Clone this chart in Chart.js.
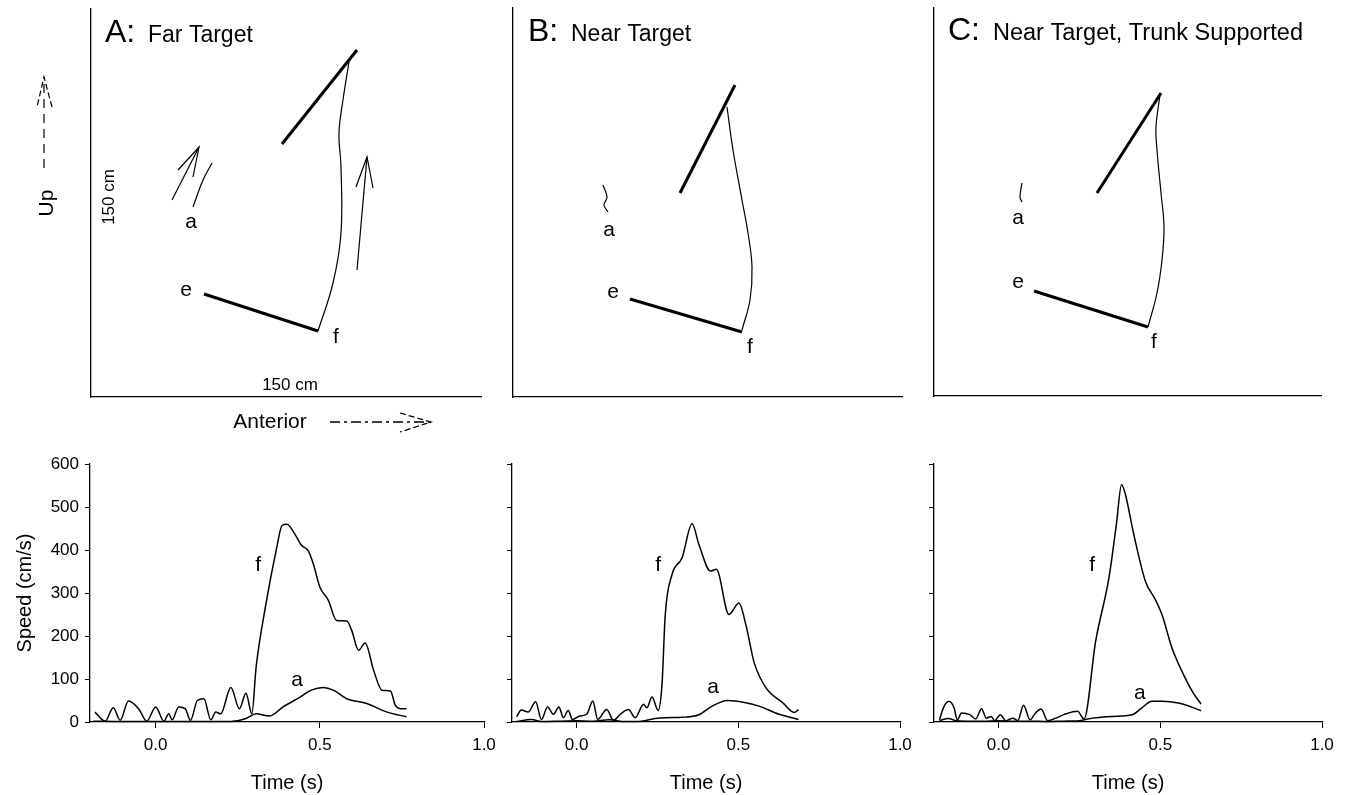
<!DOCTYPE html>
<html><head><meta charset="utf-8">
<script src="https://cdn.jsdelivr.net/npm/chart.js@4/dist/chart.umd.min.js"></script>
<style>
html,body{margin:0;padding:0;background:#fff;}
#wrap{position:relative;width:1347px;height:795px;overflow:hidden;background:#fff;}
canvas{position:absolute;}
</style></head><body><div id="wrap">
<canvas id="topA" width="500" height="440" style="left:0px;top:0px"></canvas>
<canvas id="topB" width="420" height="440" style="left:500px;top:0px"></canvas>
<canvas id="topC" width="427" height="440" style="left:920px;top:0px"></canvas>
<canvas id="botA" width="520" height="355" style="left:0px;top:440px"></canvas>
<canvas id="botB" width="520" height="355" style="left:420px;top:440px"></canvas>
<canvas id="botC" width="507" height="355" style="left:840px;top:440px"></canvas>
</div>
<script>
// ===== Top panels: stick-figure data (units relative to axes origin) =====
const A_upperArmX = [191, 266], A_upperArmY = [253, 347];
const A_forearmX = [113, 227], A_forearmY = [103, 66];
const A_fPathX = [227, 242, 250, 250, 248, 252, 258], A_fPathY = [66, 114, 164, 230, 264, 297, 335];
const A_aPathX = [102, 112, 121], A_aPathY = [190, 217, 234];
const A_fArrowX = [266, 276], A_fArrowY = [127, 240];
const A_fHeadX = [265, 276, 282], A_fHeadY = [210, 240, 209];
const A_aArrowX = [81, 108], A_aArrowY = [197, 250];
const A_aHeadX = [87, 108, 102], A_aHeadY = [227, 250, 220];
const A_upArrowX = [-47, -47], A_upArrowY = [229, 320];
const A_upHeadX = [-39, -47, -54], A_upHeadY = [290, 320, 290];
const A_antArrowX = [239, 340], A_antArrowY = [-25, -25];
const A_antHeadX = [309, 340, 309], A_antHeadY = [-16, -25, -35];

const B_upperArmX = [167, 222], B_upperArmY = [204, 312];
const B_forearmX = [117, 229], B_forearmY = [98, 65];
const B_fPathX = [229, 237, 239, 235, 229, 220, 214], B_fPathY = [67, 97, 130, 164, 197, 247, 290];
const B_aPathX = [90, 94, 91, 95], B_aPathY = [212, 200, 192, 185];

const C_upperArmX = [163, 227], C_upperArmY = [203, 303];
const C_forearmX = [100, 214], C_forearmY = [105, 69];
const C_fPathX = [214, 223, 228, 230, 227, 223, 222, 226], C_fPathY = [69, 103, 136, 169, 203, 246, 269, 301];
const C_aPathX = [88, 86, 88], C_aPathY = [213, 199, 194];

// ===== Bottom panels: speed (cm/s) vs time (s) =====
const A_fTime = [-0.185,-0.154,-0.129,-0.108,-0.083,-0.052,-0.027,0.0,0.025,0.04,0.05,0.07,0.09,0.106,0.127,0.147,0.168,0.183,0.198,0.229,0.255,0.275,0.293,0.306,0.336,0.367,0.385,0.4,0.423,0.444,0.464,0.48,0.5,0.526,0.551,0.582,0.597,0.618,0.638,0.664,0.689,0.715,0.73,0.745,0.764];
const A_fSpeed = [23,2,33,4,49,31,2,35,2,19,5,35,31,4,50,54,5,23,19,80,31,67,19,128,275,399,457,460,438,411,399,368,314,283,236,235,213,167,184,120,74,72,39,31,31];
const A_aTime = [-0.19,-0.1,0,0.1,0.2,0.25,0.275,0.306,0.347,0.388,0.44,0.474,0.51,0.541,0.582,0.643,0.705,0.764];
const A_aSpeed = [2,1,1,1,1,3,8,19,14,35,58,74,80,74,54,43,23,12];

const B_fTime = [-0.186,-0.171,-0.15,-0.127,-0.109,-0.09,-0.072,-0.055,-0.041,-0.026,-0.013,0.01,0.031,0.05,0.065,0.093,0.114,0.135,0.16,0.181,0.207,0.217,0.233,0.252,0.264,0.274,0.295,0.326,0.357,0.378,0.414,0.432,0.471,0.502,0.523,0.549,0.585,0.637,0.673,0.686];
const B_fSpeed = [12,28,23,47,6,35,18,35,10,27,6,14,18,49,6,29,4,18,29,10,41,33,58,27,88,250,343,382,461,413,351,355,250,277,227,138,80,45,22,29];
const B_aTime = [-0.186,-0.14,-0.109,-0.05,0.0,0.05,0.1,0.15,0.2,0.243,0.274,0.326,0.378,0.419,0.466,0.523,0.564,0.626,0.686];
const B_aSpeed = [1,6,1,2,3,2,5,1,2,8,10,11,17,37,50,45,37,18,6];

const C_fTime = [-0.183,-0.171,-0.154,-0.138,-0.128,-0.115,-0.089,-0.071,-0.053,-0.038,-0.023,-0.012,0.005,0.022,0.044,0.059,0.077,0.097,0.114,0.131,0.152,0.177,0.208,0.244,0.264,0.3,0.341,0.364,0.38,0.392,0.418,0.454,0.485,0.505,0.536,0.577,0.602,0.626];
const C_fSpeed = [5,33,48,33,5,21,17,7,31,9,13,3,17,3,9,3,39,5,21,30,3,9,19,25,7,188,335,459,552,529,436,327,284,250,172,102,67,42];
const C_aTime = [-0.183,-0.156,-0.13,-0.1,-0.05,0.0,0.05,0.1,0.15,0.2,0.249,0.29,0.351,0.413,0.443,0.474,0.505,0.556,0.592,0.626];
const C_aSpeed = [3,8,3,2,2,3,2,2,1,2,3,9,13,17,33,48,48,44,36,26];

// Tick labels
const timeTicks = [0.0, 0.5, 1.0];
const speedTicks = [0, 100, 200, 300, 400, 500, 600];

// Text labels (positions in data units of each panel)
const topTextA = [
  {text:'A:', x:14, y:355, size:32, align:'left', baseline:'alphabetic'},
  {text:'Far Target', x:57, y:355, size:23, align:'left', baseline:'alphabetic'},
  {text:'a', x:100, y:175, size:21},
  {text:'e', x:95, y:107, size:21},
  {text:'f', x:245, y:60, size:21},
  {text:'150 cm', x:18, y:200, size:17, rot:-Math.PI/2},
  {text:'150 cm', x:199, y:12, size:17},
  {text:'Up', x:-44, y:194, size:21, rot:-Math.PI/2},
  {text:'Anterior', x:179, y:-25, size:21}
];
const topTextB = [
  {text:'B:', x:15, y:356, size:32, align:'left', baseline:'alphabetic'},
  {text:'Near Target', x:58, y:356, size:23, align:'left', baseline:'alphabetic'},
  {text:'a', x:96, y:167, size:21},
  {text:'e', x:100, y:105, size:21},
  {text:'f', x:237, y:50, size:21}
];
const topTextC = [
  {text:'C:', x:14, y:356, size:32, align:'left', baseline:'alphabetic'},
  {text:'Near Target, Trunk Supported', x:59, y:356, size:23.5, align:'left', baseline:'alphabetic'},
  {text:'a', x:84, y:178, size:21},
  {text:'e', x:84, y:114, size:21},
  {text:'f', x:220, y:54, size:21}
];
const botTextA = [{text:'f', x:0.312, y:365, size:21}, {text:'a', x:0.431, y:98, size:21}];
const botTextB = [{text:'f', x:0.252, y:365, size:21}, {text:'a', x:0.422, y:81, size:21}];
const botTextC = [{text:'f', x:0.289, y:365, size:21}, {text:'a', x:0.437, y:67, size:21}];

// ===== Helpers =====
const FONT = '"Liberation Sans", Arial, Helvetica, sans-serif';
Chart.defaults.font.family = FONT;
Chart.defaults.color = '#000';

function pts(xs, ys) { return xs.map((x, i) => ({x: x, y: ys[i]})); }
function line(xs, ys, width, opts) {
  return Object.assign({
    data: pts(xs, ys), borderColor: '#000', borderWidth: width, pointRadius: 0,
    showLine: true, fill: false, tension: 0, clip: false
  }, opts || {});
}
function textPlugin(items) {
  return {
    id: 'panelText',
    afterDatasetsDraw(chart) {
      const ctx = chart.ctx, xs = chart.scales.x, ys = chart.scales.y;
      for (const it of items) {
        const px = xs.getPixelForValue(it.x), py = ys.getPixelForValue(it.y);
        ctx.save();
        ctx.font = it.size + 'px ' + FONT;
        ctx.fillStyle = '#000';
        ctx.textAlign = it.align || 'center';
        ctx.textBaseline = it.baseline || 'middle';
        ctx.translate(px, py);
        if (it.rot) ctx.rotate(it.rot);
        ctx.fillText(it.text, 0, 0);
        ctx.restore();
      }
    }
  };
}

function topChart(id, datasets, items, pad, xMax, yMax) {
  return new Chart(document.getElementById(id), {
    type: 'scatter',
    data: {datasets: datasets},
    options: {
      responsive: false, animation: false, devicePixelRatio: 1,
      layout: {padding: pad},
      plugins: {legend: {display: false}, tooltip: {enabled: false}},
      scales: {
        x: {type: 'linear', min: 0, max: xMax, ticks: {display: false},
            grid: {display: false}, border: {display: true, color: '#000', width: 1.3},
            afterFit(s) { s.height = 0; }},
        y: {type: 'linear', min: 0, max: yMax, ticks: {display: false},
            grid: {display: false}, border: {display: true, color: '#000', width: 1.3},
            afterFit(s) { s.width = 0; }}
      }
    },
    plugins: [textPlugin(items)]
  });
}

const thin = 1.2, thick = 3;
topChart('topA', [
  line(A_upperArmX, A_upperArmY, thick),
  line(A_forearmX, A_forearmY, thick),
  line(A_fPathX, A_fPathY, thin, {tension: 0.4}),
  line(A_aPathX, A_aPathY, thin, {tension: 0.4}),
  line(A_fArrowX, A_fArrowY, thin),
  line(A_fHeadX, A_fHeadY, thin),
  line(A_aArrowX, A_aArrowY, thin),
  line(A_aHeadX, A_aHeadY, thin),
  line(A_upArrowX, A_upArrowY, thin, {borderDash: [9, 6]}),
  line(A_upHeadX, A_upHeadY, thin, {borderDash: [6, 3]}),
  line(A_antArrowX, A_antArrowY, 1.3, {borderDash: [10, 4, 3, 4]}),
  line(A_antHeadX, A_antHeadY, 1.3, {borderDash: [6, 3]})
], topTextA, {left: 91, top: 9, right: 19, bottom: 43}, 390, 388);

topChart('topB', [
  line(B_upperArmX, B_upperArmY, thick),
  line(B_forearmX, B_forearmY, thick),
  line(B_fPathX, B_fPathY, thin, {tension: 0.4}),
  line(B_aPathX, B_aPathY, thin, {tension: 0.4})
], topTextB, {left: 13, top: 8, right: 18, bottom: 43}, 389, 389);

topChart('topC', [
  line(C_upperArmX, C_upperArmY, thick),
  line(C_forearmX, C_forearmY, thick),
  line(C_fPathX, C_fPathY, thin, {tension: 0.4}),
  line(C_aPathX, C_aPathY, thin, {tension: 0.4})
], topTextC, {left: 14, top: 8, right: 26, bottom: 44}, 387, 388);

function botChart(id, fT, fV, aT, aV, items, yWidth, padRight, showYLabels) {
  const curve = {cubicInterpolationMode: 'monotone', clip: false};
  return new Chart(document.getElementById(id), {
    type: 'scatter',
    data: {datasets: [
      line(fT, fV, 1.5, curve),
      line(aT, aV, 1.5, curve)
    ]},
    options: {
      responsive: false, animation: false, devicePixelRatio: 1,
      layout: {padding: {left: 0, top: 24, right: padRight, bottom: 0}},
      plugins: {legend: {display: false}, tooltip: {enabled: false}},
      scales: {
        x: {type: 'linear', min: -0.2, max: 1.0,
            afterBuildTicks(s) { s.ticks = timeTicks.map(v => ({value: v})); },
            ticks: {callback: v => Number(v).toFixed(1), font: {size: 17}, color: '#000', padding: 7, maxRotation: 0, autoSkip: false},
            grid: {display: true, drawOnChartArea: false, drawTicks: true, tickLength: 6, color: '#000', lineWidth: 1},
            border: {display: true, color: '#000', width: 1.3},
            title: {display: true, text: 'Time (s)', font: {size: 20}, color: '#000', padding: {top: 0, bottom: 0}},
            afterFit(s) { s.height = 73; }},
        y: {type: 'linear', min: 0, max: 600,
            afterBuildTicks(s) { s.ticks = speedTicks.map(v => ({value: v})); },
            ticks: {display: showYLabels, font: {size: 17}, color: '#000', padding: 6},
            grid: {display: true, drawOnChartArea: false, drawTicks: true, tickLength: 5, color: '#000', lineWidth: 1},
            border: {display: true, color: '#000', width: 1.3},
            title: {display: showYLabels, text: 'Speed (cm/s)', font: {size: 20}, color: '#000', padding: {top: 13, bottom: 0}},
            afterFit(s) { s.width = yWidth; }}
      }
    },
    plugins: [textPlugin(items)]
  });
}

botChart('botA', A_fTime, A_fSpeed, A_aTime, A_aSpeed, botTextA, 90, 36, true);
botChart('botB', B_fTime, B_fSpeed, B_aTime, B_aSpeed, botTextB, 92, 40, false);
botChart('botC', C_fTime, C_fSpeed, C_aTime, C_aSpeed, botTextC, 94, 25, false);
</script>
</body></html>
